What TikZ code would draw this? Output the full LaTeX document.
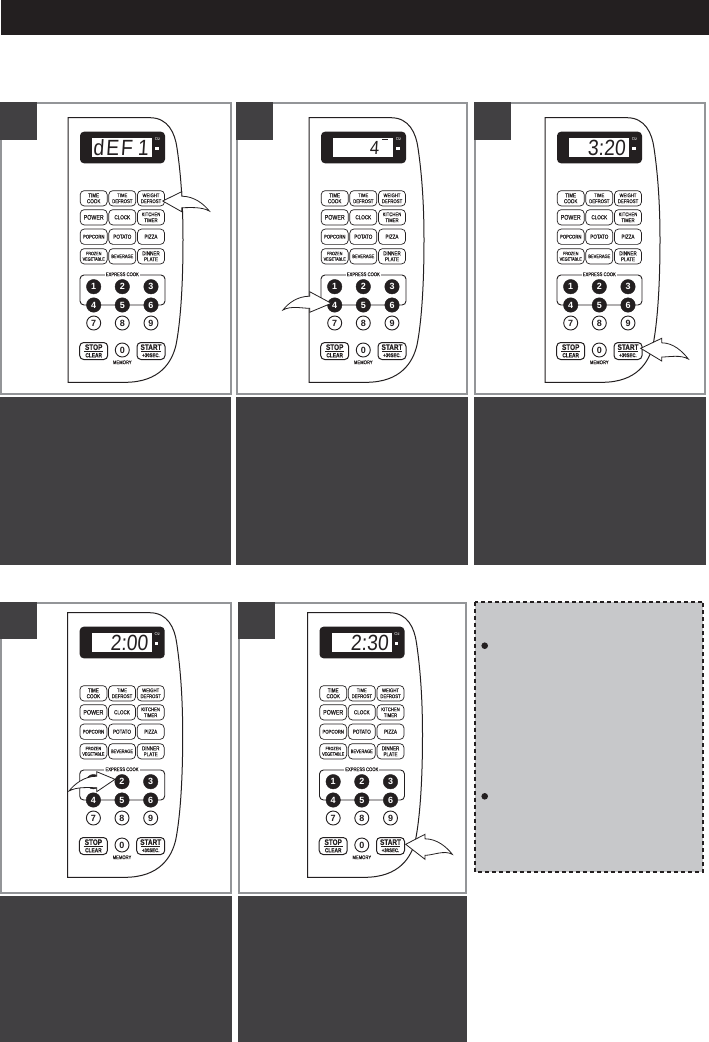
\documentclass[tikz,border=0pt]{standalone}
\usepackage{fontspec}
\setmainfont{Liberation Sans}
\newfontfamily\btnf[FakeStretch=0.8,FakeBold=0.25]{Liberation Sans}
\newfontfamily\lcdf[FakeSlant=0.07,FakeStretch=0.88]{Liberation Sans}
\definecolor{barblack}{HTML}{231F20}
\definecolor{panelgray}{HTML}{939598}
\definecolor{darkbox}{HTML}{414042}
\definecolor{notegray}{HTML}{C7C8CA}
\tikzset{
  framebox/.style={draw=panelgray,line width=2pt,fill=white},
  darkfill/.style={fill=darkbox,draw=none},
  keybtn/.style={draw=barblack,line width=.7pt,rectangle,rounded corners=4pt,minimum width=27pt,minimum height=15.3pt,inner sep=0pt,align=center,text=barblack,font=\btnf\fontsize{5.7}{5.9}\selectfont},
  bigbtn/.style={keybtn,line width=1pt,minimum width=28pt,minimum height=17pt,font=\btnf\bfseries},
  blackkey/.style={circle,fill=barblack,draw=barblack,minimum size=14.5pt,inner sep=0pt,text=white,font=\bfseries\fontsize{9}{9}\selectfont},
  whitekey/.style={circle,fill=white,draw=barblack,line width=.9pt,minimum size=14pt,inner sep=0pt,text=barblack,font=\bfseries\fontsize{9}{9}\selectfont},
  smalllabel/.style={text=barblack,inner sep=1pt,font=\btnf\fontsize{5.2}{5.5}\selectfont},
  lcdtext/.style={inner sep=0pt,text=barblack,font=\lcdf\fontsize{22}{22}\selectfont},
  pointershape/.style={draw=barblack,fill=white,line width=.8pt,line join=miter},
}
% pointer: tip x,y, direction, head length, top barb, bottom barb, tail x,y
\newcommand\pointerarrow[8]{%
  \begin{scope}[shift={(#1,#2)},xscale=#3]
    \draw[pointershape] (0,0) -- (#4,#5) -- (#4,{#5+4.5})
      .. controls ({#4+.45*(#7-#4)},{#5+4.5}) and ({#4+.8*(#7-#4)},{#8-7}) .. (#7,#8)
      .. controls ({#4+.7*(#7-#4)},{#8-4.5}) and ({#4+.3*(#7-#4)},{#6-4}) .. (#4,{#6-4})
      -- (#4,#6) -- cycle;
  \end{scope}}
% control panel: dx, dy, prefix, lcd content
\newcommand\ovenpanel[4]{%
  \begin{scope}[shift={(#1,#2)},name prefix=#3-]
    \draw[barblack,line width=1pt] (68,117.7) -- (150,117.7)
      .. controls (168,117.7) and (175,133) .. (177,148)
      .. controls (181,175) and (183,205) .. (183,240)
      .. controls (183,290) and (180,325) .. (176,345)
      .. controls (172,362) and (160,382.3) .. (125,382.3)
      -- (68,382.3) -- cycle;
    \fill[barblack,rounded corners=4pt] (80,131.7) rectangle (165,163.3);
    \fill[white] (92,137.7) rectangle (152,157.3);
    \node[text=white,inner sep=0pt,font=\fontsize{4.2}{4}\selectfont] (oz) at (157.5,139.5) {Oz};
    \fill[white] (155.3,147) rectangle (158.5,150);
    #4
    \node[keybtn] (timecook) at (93.7,198.3) {TIME\\COOK};
    \node[keybtn,font=\btnf\fontsize{5.3}{5.9}\selectfont] (timedef) at (122.3,198.3) {TIME\\DEFROST};
    \node[keybtn,font=\btnf\fontsize{5.3}{5.9}\selectfont] (weightdef) at (151,198.3) {WEIGHT\\DEFROST};
    \node[keybtn,font=\btnf\fontsize{6.6}{6}\selectfont] (power) at (93.7,217.3) {POWER};
    \node[keybtn] (clock) at (122.3,217.3) {CLOCK};
    \node[keybtn,font=\btnf\fontsize{5.3}{5.9}\selectfont] (kitchen) at (151,217.3) {KITCHEN\\TIMER};
    \node[keybtn,font=\btnf\fontsize{5.3}{5.9}\selectfont] (popcorn) at (93.7,236.7) {POPCORN};
    \node[keybtn] (potato) at (122.3,236.7) {POTATO};
    \node[keybtn] (pizza) at (151,236.7) {PIZZA};
    \node[keybtn,font=\btnf\fontsize{4.7}{5.6}\selectfont] (frozen) at (93.7,256.3) {FROZEN\\VEGETABLE};
    \node[keybtn,font=\btnf\fontsize{5}{5.9}\selectfont] (beverage) at (122.3,256.3) {BEVERAGE};
    \node[keybtn] (dinner) at (151,256.3) {DINNER\\PLATE};
    \draw[barblack,line width=.9pt,rounded corners=4pt] (80,275) rectangle (165,305);
    \node[smalllabel,fill=white] (express) at (122.3,274.3) {EXPRESS COOK};
    \node[blackkey] (k1) at (93.7,286.7) {1};
    \node[blackkey] (k2) at (122.3,286.7) {2};
    \node[blackkey] (k3) at (151,286.7) {3};
    \node[blackkey] (k4) at (93.7,305) {4};
    \node[blackkey] (k5) at (122.3,305) {5};
    \node[blackkey] (k6) at (151,305) {6};
    \node[whitekey] (k7) at (93.7,323) {7};
    \node[whitekey] (k8) at (122.3,323) {8};
    \node[whitekey] (k9) at (151,323) {9};
    \node[keybtn,line width=1pt,minimum width=28pt,minimum height=17pt] (stop) at (93.7,351) {};
    \node[keybtn,line width=1pt,minimum width=28pt,minimum height=17pt] (start) at (151,351) {};
    \node[draw=none,inner sep=0pt,text=barblack,font=\btnf\bfseries\fontsize{8}{8}\selectfont] (stoptop) at (93.7,347.2) {STOP};
    \node[draw=none,inner sep=0pt,text=barblack,font=\btnf\bfseries\fontsize{6}{6}\selectfont] (stopbot) at (93.7,355.3) {CLEAR};
    \node[draw=none,inner sep=0pt,text=barblack,font=\btnf\bfseries\fontsize{8}{8}\selectfont] (starttop) at (151,347.2) {START};
    \node[draw=none,inner sep=0pt,text=barblack,font=\btnf\bfseries\fontsize{5.4}{6}\selectfont] (startbot) at (151,355.3) {+30SEC.};
    \draw[barblack,line width=.6pt] (84,351.6) -- (103.4,351.6);
    \draw[barblack,line width=.6pt] (141.3,351.6) -- (160.7,351.6);
    \node[whitekey] (k0) at (122.3,350) {0};
    \node[smalllabel] (memory) at (122.3,362.3) {MEMORY};
  \end{scope}}
\begin{document}
\begin{tikzpicture}[x=1pt,y=-1pt]
  \useasboundingbox (0,0) rectangle (709,1042);
  \fill[white] (0,0) rectangle (709,1042);
  \fill[barblack] (1,0) rectangle (709,35);
  % upper frames
  \draw[framebox] (1,102.7) rectangle (230.7,394);
  \draw[framebox] (236.7,102.7) rectangle (467,394);
  \draw[framebox] (474.7,102.7) rectangle (705,394);
  \fill[darkfill] (0,102) rectangle (37,140);
  \fill[darkfill] (236,102) rectangle (273,140);
  \fill[darkfill] (474,102) rectangle (511,140);
  \fill[darkfill] (0,397) rectangle (231,565);
  \fill[darkfill] (236,397) rectangle (468,565);
  \fill[darkfill] (474,397) rectangle (706,565);
  % lower frames
  \draw[framebox] (1,602.7) rectangle (231.3,893.3);
  \draw[framebox] (238.7,602.7) rectangle (465.5,893.3);
  \fill[darkfill] (0,602) rectangle (37,639);
  \fill[darkfill] (238,602) rectangle (275,639);
  \fill[darkfill] (0,895.5) rectangle (232,1042);
  \fill[darkfill] (238,896) rectangle (467,1042);
  % panels
  \ovenpanel{0}{0}{pa}{\node[lcdtext,anchor=base east] (lcd) at (148.5,155) {d\kern2pt E\kern2pt F\kern5pt 1};}
  \ovenpanel{241}{0}{pb}{\node[lcdtext,anchor=base east,font=\lcdf\fontsize{19}{19}\selectfont] (lcd) at (138,154) {4};
    \draw[barblack,line width=1pt] (141,139.5) -- (147,139.5);}
  \ovenpanel{477}{0}{pc}{\node[lcdtext,anchor=base east] (lcd) at (148.5,155) {3:20};}
  \ovenpanel{-.3}{495}{pd}{\node[lcdtext,anchor=base east] (lcd) at (148.5,155) {2:00};}
  \ovenpanel{239.5}{495}{pe}{\node[lcdtext,anchor=base east] (lcd) at (149,155) {2:30};}
  % pointers
  \pointerarrow{162.7}{201}{1}{19}{-9.3}{10.7}{46.6}{10}
  \pointerarrow{331.3}{303.3}{-1}{21.6}{-11.6}{9}{48.3}{6.7}
  \pointerarrow{640.7}{348.3}{1}{21}{-10}{12.7}{47.6}{10.7}
  \pointerarrow{115}{779.3}{-1}{18.3}{-7.6}{12.4}{46}{11.7}
  \pointerarrow{405.7}{844.3}{1}{19.3}{-10}{15}{46.6}{10}
  % note box
  \draw[fill=notegray,draw=barblack,line width=1.8pt,dash pattern=on 4pt off 3pt] (475,601.7) rectangle (703.3,871.7);
  \fill[barblack] (484.7,645.7) circle (3.3);
  \fill[barblack] (484.7,796.3) circle (3.3);
\end{tikzpicture}
\end{document}
